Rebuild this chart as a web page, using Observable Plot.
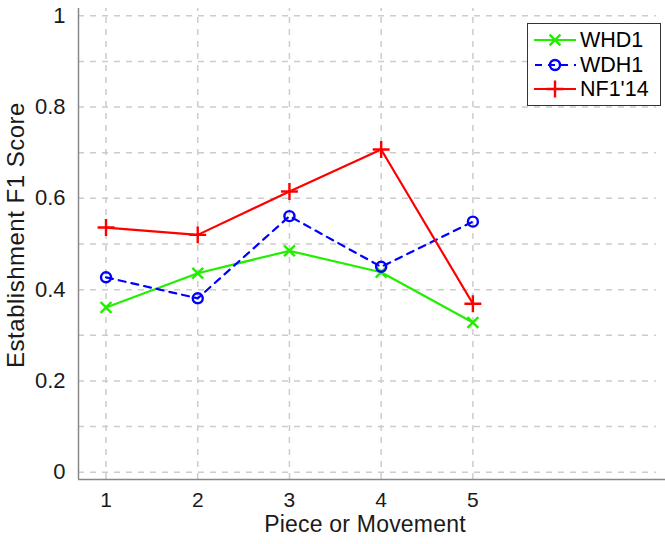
<!DOCTYPE html>
<html>
<head>
<meta charset="utf-8">
<script src="https://cdn.jsdelivr.net/npm/d3@7"></script>
<script src="https://cdn.jsdelivr.net/npm/@observablehq/plot@0.6"></script>
<style>
  html, body { margin: 0; padding: 0; background: #fff; }
  #wrap { position: relative; width: 665px; height: 544px; font-family: "Liberation Sans", Arial, sans-serif; color: #1a1a1a; }
  #legend { position: absolute; left: 527px; top: 23px; width: 134px; height: 83px; border: 1px solid #333; background: #fff; box-sizing: border-box; }
  #legend .row { position: absolute; left: 0; height: 24px; width: 132px; }
  #legend svg { position: absolute; left: 4px; top: 0; }
  #legend span { position: absolute; left: 52px; top: 0px; font-size: 21.5px; line-height: 24px; color: #000; }
  .title { position: absolute; font-size: 23px; line-height: 17px; white-space: nowrap; color: #1a1a1a; }
  #xtitle { left: 365px; top: 515.5px; letter-spacing: 0.2px; transform: translateX(-50%); }
  #ytitle { left: 16px; top: 235px; font-size: 24px; line-height: 24px; letter-spacing: 0.5px; transform: translate(-50%, -50%) rotate(-90deg); }
</style>
</head>
<body>
<div id="wrap"><div id="legend"></div><div class="title" id="xtitle"></div><div class="title" id="ytitle"></div></div>
<script>
const pieces = [1, 2, 3, 4, 5];
const seriesNames = ["WHD1", "WDH1", "NF1'14"];
const whd1 = [0.361, 0.436, 0.485, 0.438, 0.328];
const wdh1 = [0.427, 0.381, 0.561, 0.450, 0.549];
const nf1 = [0.536, 0.520, 0.615, 0.707, 0.369];
const yTicks = [0, 0.2, 0.4, 0.6, 0.8, 1];
const yGrid = [0, 0.1, 0.2, 0.3, 0.4, 0.5, 0.6, 0.7, 0.8, 0.9, 1];
const xTicks = [1, 2, 3, 4, 5];
const xTitle = "Piece or Movement";
const yTitle = "Establishment F1 Score";

const styles = {
  "WHD1": {color: "#22ee00", symbol: "times", dash: null, r: 5},
  "WDH1": {color: "#0000ff", symbol: "circle", dash: "7,6", r: 5},
  "NF1'14": {color: "#ff0000", symbol: "plus", dash: null, r: 5.5}
};

const seriesValues = [whd1, wdh1, nf1];
const data = seriesNames.map((name, i) => pieces.map((p, j) => ({piece: p, value: seriesValues[i][j], series: name})));

const xDomain = [0.7, 7.1];
const yDomain = [-0.016, 1.016];

const marks = [
  Plot.ruleY(yGrid, {x1: 0.7, x2: 7, stroke: "#cccccc", strokeWidth: 1.5, strokeDasharray: "6,6"}),
  Plot.ruleX(xTicks, {y1: yDomain[0], y2: yDomain[1], stroke: "#cccccc", strokeWidth: 1.5, strokeDasharray: "6,6"}),
  Plot.ruleX([xDomain[0]], {stroke: "#888", strokeWidth: 1.5}),
  Plot.ruleY([yDomain[0]], {stroke: "#888", strokeWidth: 1.5}),
  Plot.axisX({ticks: xTicks, tickSize: 0, tickPadding: 12.5, fontSize: 21, label: null, tickFormat: d => String(d), fill: "#1a1a1a"}),
  Plot.axisY({ticks: yTicks, tickSize: 0, tickPadding: 13, fontSize: 22, label: null, tickFormat: d => String(+d.toFixed(1)), fill: "#1a1a1a"})
];
data.forEach(d => {
  const s = styles[d[0].series];
  marks.push(Plot.line(d, {x: "piece", y: "value", stroke: s.color, strokeWidth: 2.2, strokeDasharray: s.dash}));
  marks.push(Plot.dot(d, {x: "piece", y: "value", stroke: s.color, strokeWidth: 2.4, symbol: s.symbol, r: s.r}));
});

const chart = Plot.plot({
  width: 665,
  height: 544,
  marginLeft: 78,
  marginRight: 0,
  marginTop: 8,
  marginBottom: 65,
  style: {fontFamily: "Liberation Sans, Arial, sans-serif", background: "#fff"},
  x: {domain: xDomain},
  y: {domain: yDomain},
  marks
});
chart.style.position = "absolute";
chart.style.left = "0";
chart.style.top = "0";
const wrap = document.getElementById("wrap");
wrap.insertBefore(chart, wrap.firstChild);
document.getElementById("xtitle").textContent = xTitle;
document.getElementById("ytitle").textContent = yTitle;

// legend
const legend = document.getElementById("legend");
seriesNames.forEach((name, i) => {
  const s = styles[name];
  const row = document.createElement("div");
  row.className = "row";
  row.style.top = (4 + i * 24.5) + "px";
  const sym = d3.symbol(s.symbol === "times" ? d3.symbolTimes : s.symbol === "plus" ? d3.symbolPlus : d3.symbolCircle, Math.PI * s.r * s.r)();
  row.innerHTML = `<svg width="46" height="24"><line x1="2" x2="44" y1="12" y2="12" stroke="${s.color}" stroke-width="2.2" ${s.dash ? `stroke-dasharray="${s.dash}" stroke-dashoffset="-1"` : ""}/><path transform="translate(23,12)" d="${sym}" fill="none" stroke="${s.color}" stroke-width="2.4"/></svg><span>${name}</span>`;
  legend.appendChild(row);
});
</script>
</body>
</html>
